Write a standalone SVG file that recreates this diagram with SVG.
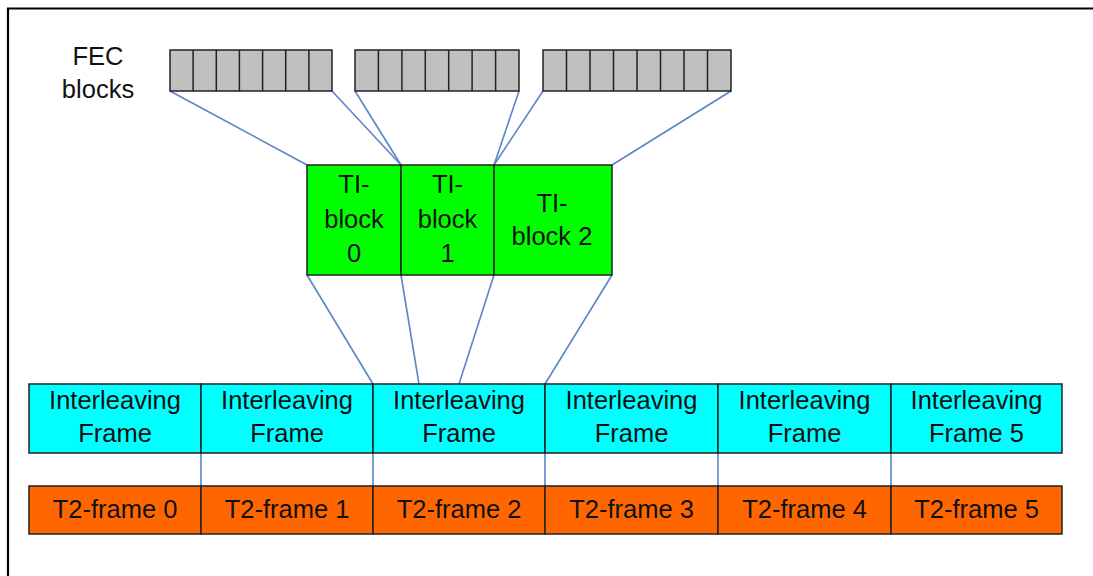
<svg xmlns="http://www.w3.org/2000/svg" width="1093" height="576" viewBox="0 0 1093 576">
  <defs>
    <style>
      .lbl { font-family: "Liberation Sans", Arial, sans-serif; font-size: 25.5px; fill: #111; text-anchor: middle; }
      .fec { fill: #c0c0c0; stroke: #222; stroke-width: 1.5; }
      .cell { fill: none; stroke: #222; stroke-width: 1.5; }
      .ti { fill: #00ff00; stroke: #222; stroke-width: 1.5; }
      .ilv { fill: #00ffff; stroke: #222; stroke-width: 1.5; }
      .t2 { fill: #ff6600; stroke: #222; stroke-width: 1.5; }
      .conn { stroke: #5b85c8; stroke-width: 1.6; fill: none; }
      .frame { stroke: #000; stroke-width: 2.2; fill: none; }
    </style>
  </defs>
  <rect width="1093" height="576" fill="#fff"/>
  <!-- outer frame: left and top edges -->
  <path class="frame" d="M8,576 V8.5 H1093"/>

  <!-- label -->
  <g id="fec-label">
    <text class="lbl" x="98" y="65">FEC</text>
    <text class="lbl" x="98" y="98">blocks</text>
  </g>

  <!-- connectors -->
  <g id="connectors">
    <!-- FEC blocks to TI-blocks -->
    <line class="conn" x1="170" y1="91" x2="307" y2="165"/>
    <line class="conn" x1="332" y1="91" x2="401" y2="165"/>
    <line class="conn" x1="355" y1="91" x2="401" y2="165"/>
    <line class="conn" x1="519" y1="91" x2="494" y2="165"/>
    <line class="conn" x1="543" y1="91" x2="494" y2="165"/>
    <line class="conn" x1="731" y1="91" x2="612" y2="165"/>
    <!-- TI-blocks to interleaving frames -->
    <line class="conn" x1="307" y1="275" x2="373" y2="384"/>
    <line class="conn" x1="401" y1="275" x2="419" y2="384"/>
    <line class="conn" x1="494" y1="275" x2="459" y2="384"/>
    <line class="conn" x1="612" y1="275" x2="545" y2="384"/>
    <!-- interleaving frames to T2-frames -->
    <line class="conn" x1="201" y1="446" x2="201" y2="486"/>
    <line class="conn" x1="373" y1="446" x2="373" y2="486"/>
    <line class="conn" x1="545" y1="446" x2="545" y2="486"/>
    <line class="conn" x1="718" y1="446" x2="718" y2="486"/>
    <line class="conn" x1="891" y1="446" x2="891" y2="486"/>
  </g>

  <!-- FEC block groups -->
  <g id="fec-block-a">
    <rect class="fec" x="170" y="50" width="162" height="41"/>
    <path class="cell" d="M193.1,50V91M216.3,50V91M239.4,50V91M262.6,50V91M285.7,50V91M308.9,50V91"/>
  </g>
  <g id="fec-block-b">
    <rect class="fec" x="355" y="50" width="164" height="41"/>
    <path class="cell" d="M378.4,50V91M401.9,50V91M425.3,50V91M448.7,50V91M472.1,50V91M495.6,50V91"/>
  </g>
  <g id="fec-block-c">
    <rect class="fec" x="543" y="50" width="188" height="41"/>
    <path class="cell" d="M566.5,50V91M590,50V91M613.5,50V91M637,50V91M660.5,50V91M684,50V91M707.5,50V91"/>
  </g>

  <!-- TI-blocks -->
  <g id="ti-block-0">
    <rect class="ti" x="307" y="165" width="94" height="110"/>
    <text class="lbl" x="354" y="193">TI-</text>
    <text class="lbl" x="354" y="228">block</text>
    <text class="lbl" x="354" y="262">0</text>
  </g>
  <g id="ti-block-1">
    <rect class="ti" x="401" y="165" width="93" height="110"/>
    <text class="lbl" x="447.5" y="193">TI-</text>
    <text class="lbl" x="447.5" y="228">block</text>
    <text class="lbl" x="447.5" y="262">1</text>
  </g>
  <g id="ti-block-2">
    <rect class="ti" x="494" y="165" width="118" height="110"/>
    <text class="lbl" x="552" y="212">TI-</text>
    <text class="lbl" x="552" y="245">block 2</text>
  </g>

  <!-- Interleaving frames -->
  <g id="ilv-frame-0">
    <rect class="ilv" x="29" y="384" width="172" height="69"/>
    <text class="lbl" x="115" y="409">Interleaving</text>
    <text class="lbl" x="115" y="442">Frame</text>
  </g>
  <g id="ilv-frame-1">
    <rect class="ilv" x="201" y="384" width="172" height="69"/>
    <text class="lbl" x="287" y="409">Interleaving</text>
    <text class="lbl" x="287" y="442">Frame</text>
  </g>
  <g id="ilv-frame-2">
    <rect class="ilv" x="373" y="384" width="172" height="69"/>
    <text class="lbl" x="459" y="409">Interleaving</text>
    <text class="lbl" x="459" y="442">Frame</text>
  </g>
  <g id="ilv-frame-3">
    <rect class="ilv" x="545" y="384" width="173" height="69"/>
    <text class="lbl" x="631.5" y="409">Interleaving</text>
    <text class="lbl" x="631.5" y="442">Frame</text>
  </g>
  <g id="ilv-frame-4">
    <rect class="ilv" x="718" y="384" width="173" height="69"/>
    <text class="lbl" x="804.5" y="409">Interleaving</text>
    <text class="lbl" x="804.5" y="442">Frame</text>
  </g>
  <g id="ilv-frame-5">
    <rect class="ilv" x="891" y="384" width="171" height="69"/>
    <text class="lbl" x="976.5" y="409">Interleaving</text>
    <text class="lbl" x="976.5" y="442">Frame 5</text>
  </g>

  <!-- T2-frames -->
  <g id="t2-frame-0">
    <rect class="t2" x="29" y="486" width="172" height="48"/>
    <text class="lbl" x="115" y="518">T2-frame 0</text>
  </g>
  <g id="t2-frame-1">
    <rect class="t2" x="201" y="486" width="172" height="48"/>
    <text class="lbl" x="287" y="518">T2-frame 1</text>
  </g>
  <g id="t2-frame-2">
    <rect class="t2" x="373" y="486" width="172" height="48"/>
    <text class="lbl" x="459" y="518">T2-frame 2</text>
  </g>
  <g id="t2-frame-3">
    <rect class="t2" x="545" y="486" width="173" height="48"/>
    <text class="lbl" x="631.5" y="518">T2-frame 3</text>
  </g>
  <g id="t2-frame-4">
    <rect class="t2" x="718" y="486" width="173" height="48"/>
    <text class="lbl" x="804.5" y="518">T2-frame 4</text>
  </g>
  <g id="t2-frame-5">
    <rect class="t2" x="891" y="486" width="171" height="48"/>
    <text class="lbl" x="976.5" y="518">T2-frame 5</text>
  </g>
</svg>
